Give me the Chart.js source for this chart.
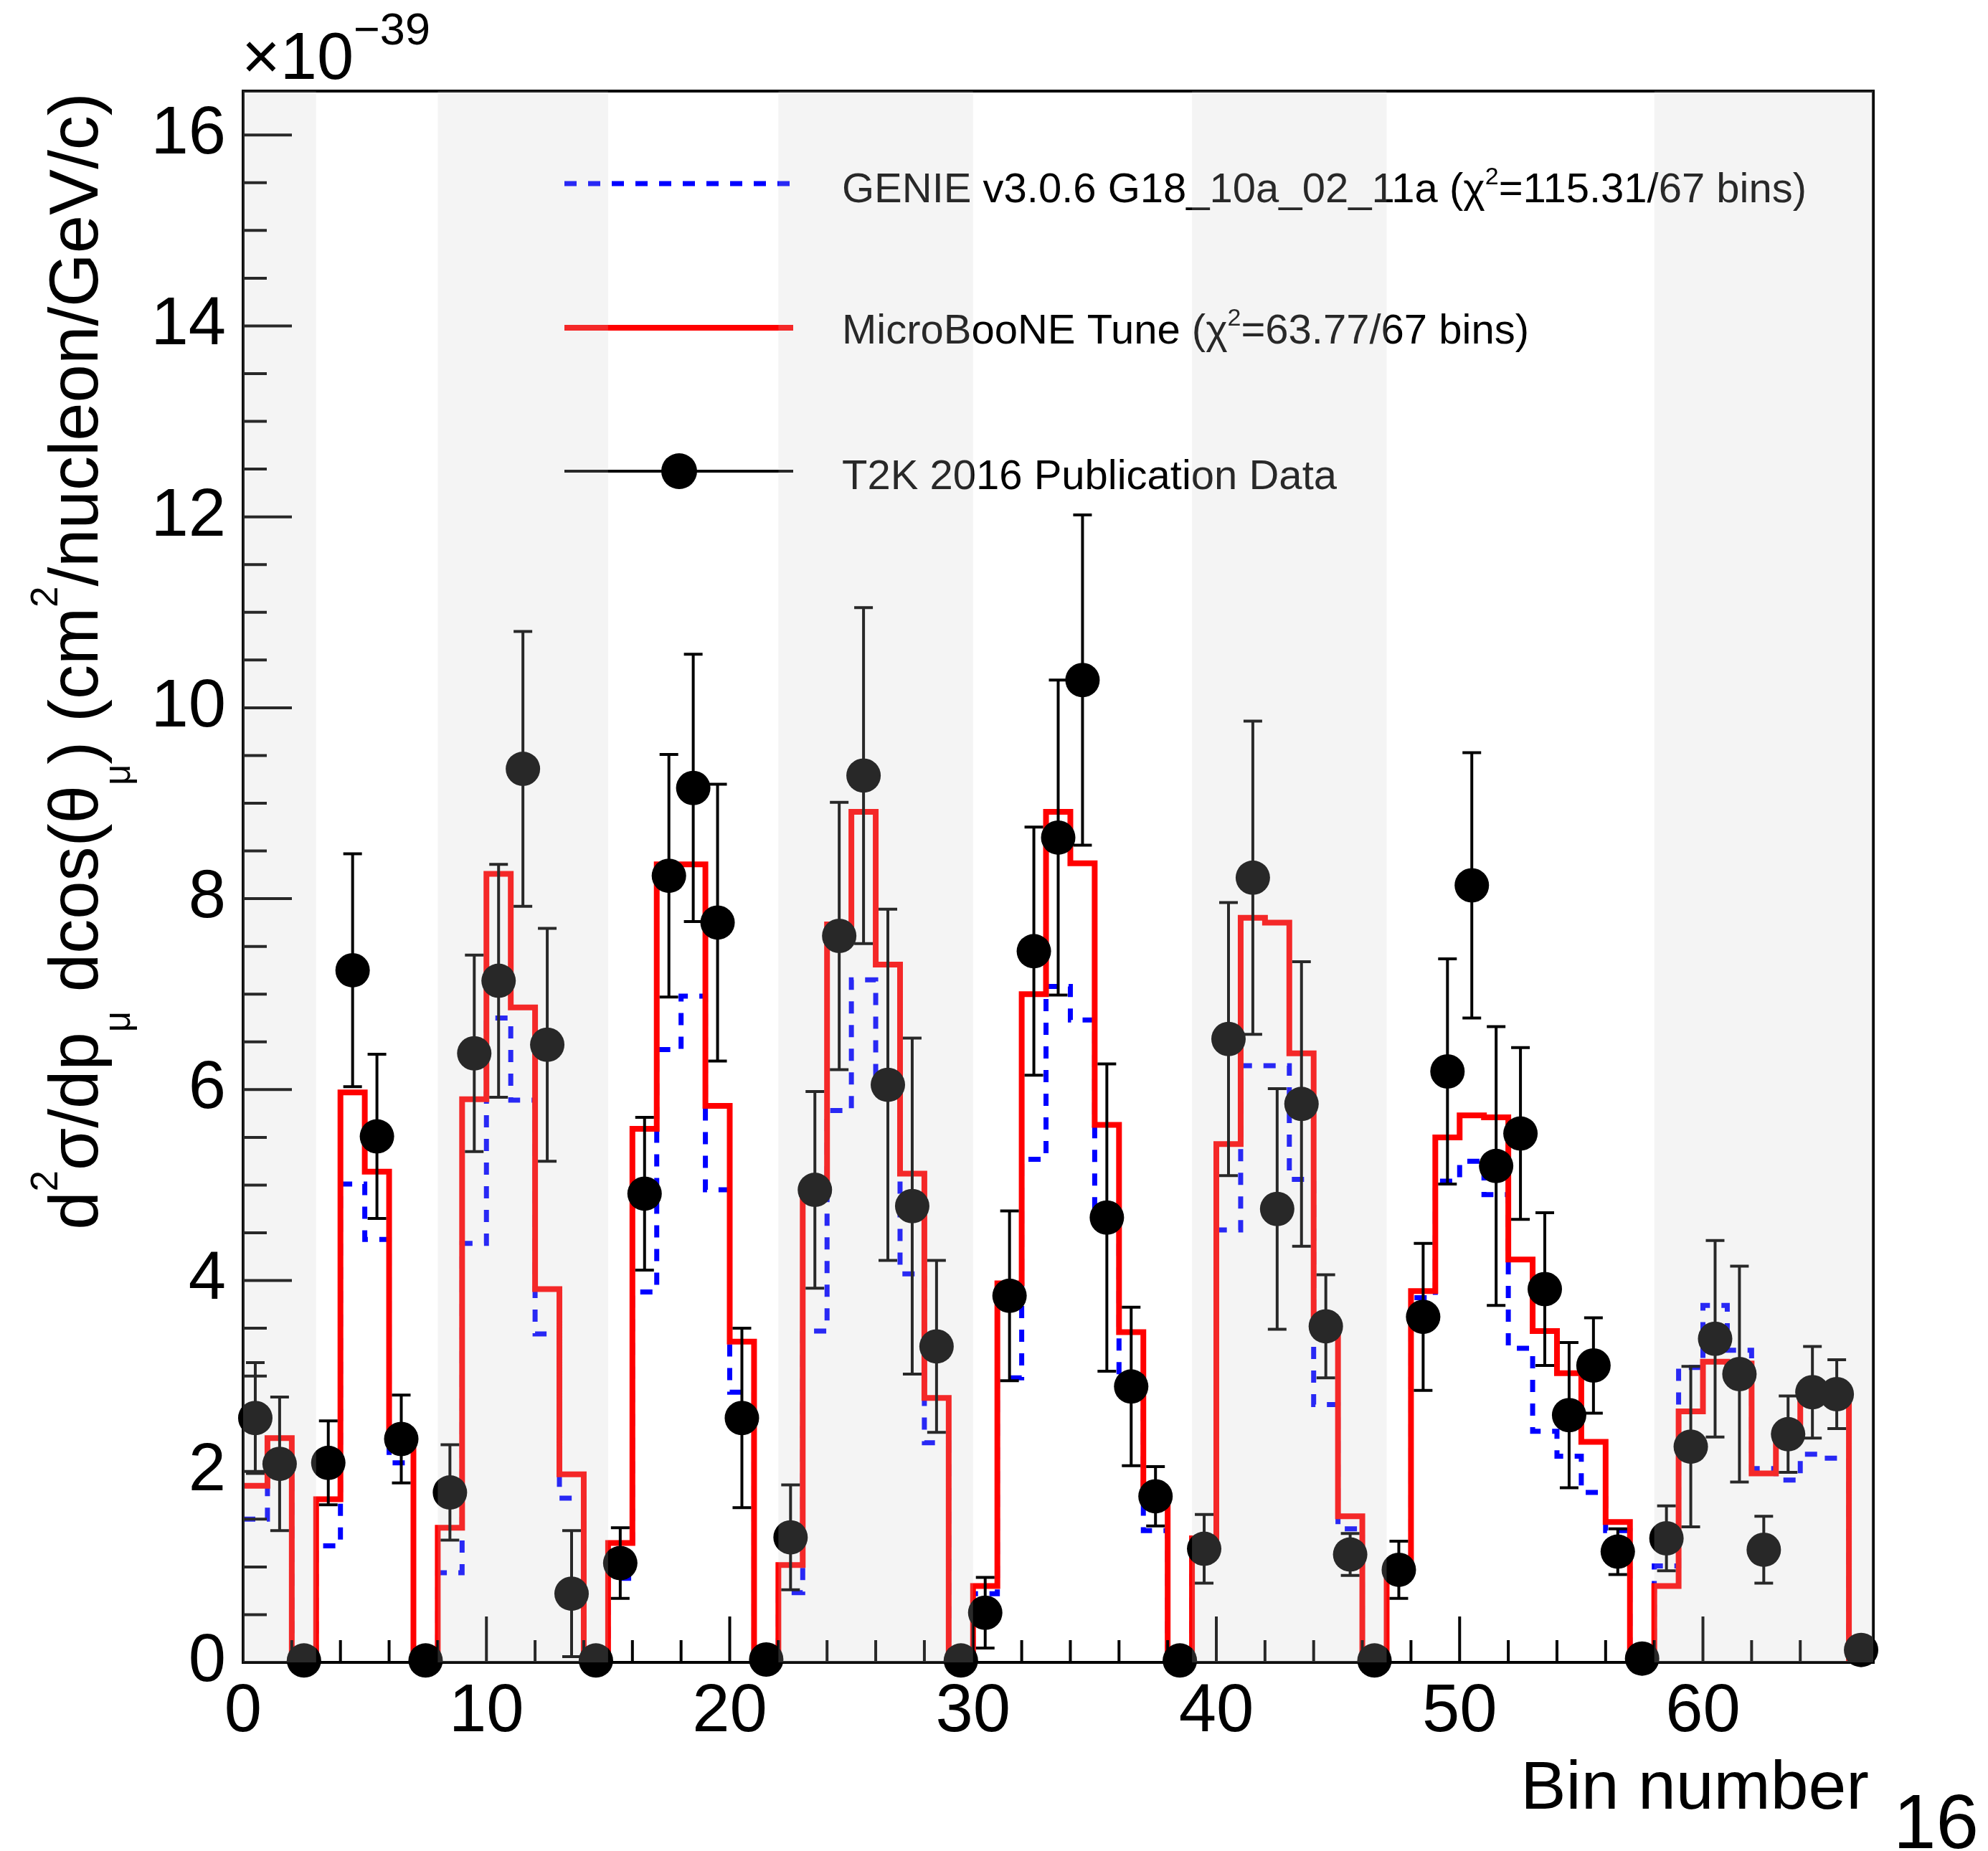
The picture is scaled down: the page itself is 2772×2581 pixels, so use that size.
<!DOCTYPE html>
<html>
<head>
<meta charset="utf-8">
<script src="https://cdn.jsdelivr.net/npm/chart.js@4.4.1/dist/chart.umd.min.js"></script>
<style>
  html, body { margin: 0; padding: 0; background: #fff; }
</style>
</head>
<body>
<canvas id="chart" width="2772" height="2581"></canvas>
<script>
// T2K data, one value per bin (bins 0..66), in units of 1e-39
const t2k = [
  2.56, 2.08, 0.02, 2.09, 7.25, 5.51, 2.34, 0.02, 1.78, 6.38,
  7.14, 9.36, 6.47, 0.72, 0.02, 1.04, 4.91, 8.24, 9.16, 7.75,
  2.56, 0.03, 1.31, 4.95, 7.61, 9.29, 6.05, 4.78, 3.31, 0.02,
  0.52, 3.84, 7.45, 8.64, 10.29, 4.66, 2.89, 1.74, 0.02, 1.19,
  6.53, 8.22, 4.75, 5.85, 3.52, 1.13, 0.02, 0.97, 3.62, 6.19,
  8.14, 5.20, 5.54, 3.91, 2.59, 3.11, 1.16, 0.04, 1.30, 2.26,
  3.39, 3.02, 1.18, 2.39, 2.83, 2.81, 0.13
];
const t2kErr = [
  0.58, 0.70, 0, 0.44, 1.22, 0.86, 0.46, 0, 0.50, 1.03,
  1.22, 1.44, 1.22, 0.66, 0, 0.37, 0.80, 1.27, 1.40, 1.45,
  0.94, 0, 0.55, 1.03, 1.40, 1.76, 1.84, 1.76, 0.90, 0,
  0.37, 0.89, 1.30, 1.65, 1.73, 1.61, 0.83, 0.31, 0, 0.36,
  1.43, 1.64, 1.26, 1.49, 0.54, 0.22, 0, 0.30, 0.77, 1.18,
  1.39, 1.46, 0.90, 0.80, 0.76, 0.50, 0.24, 0, 0.34, 0.84,
  1.03, 1.13, 0.35, 0.40, 0.48, 0.36, 0
];
// GENIE v3.0.6 G18_10a_02_11a prediction
const genie = [
  1.50, 2.20, 0, 1.22, 5.01, 4.43, 2.09, 0, 0.94, 4.39,
  6.75, 5.89, 3.44, 1.72, 0, 0.88, 3.88, 6.42, 6.98, 4.95,
  2.83, 0, 0.73, 3.47, 5.78, 7.15, 6.15, 4.07, 2.30, 0,
  0.72, 2.98, 5.27, 7.08, 6.73, 4.70, 2.82, 1.38, 0, 1.25,
  4.53, 6.25, 6.25, 5.06, 2.70, 1.40, 0, 0.90, 3.82, 5.04,
  5.25, 4.90, 3.29, 2.42, 2.16, 1.78, 1.38, 0, 1.01, 3.09,
  3.74, 3.27, 2.03, 1.91, 2.18, 2.14, 0
];
// MicroBooNE Tune prediction
const tune = [
  1.85, 2.35, 0, 1.71, 5.97, 5.14, 2.30, 0, 1.41, 5.90,
  8.26, 6.86, 3.91, 1.97, 0, 1.25, 5.59, 8.36, 8.36, 5.83,
  3.36, 0, 1.02, 4.95, 7.73, 8.91, 7.31, 5.12, 2.77, 0,
  0.80, 3.97, 7.00, 8.91, 8.37, 5.63, 3.46, 1.80, 0, 1.30,
  5.43, 7.80, 7.75, 6.38, 3.55, 1.53, 0, 0.95, 3.89, 5.50,
  5.73, 5.71, 4.22, 3.47, 3.03, 2.31, 1.47, 0, 0.80, 2.63,
  3.15, 3.13, 1.98, 2.35, 2.83, 2.84, 0
];
// shaded groups of bins
const bandStart = [0, 8, 22, 39, 58];
const bandEnd = [3, 15, 30, 47, 67];
// axis tick labels
const xTickValues = [0, 10, 20, 30, 40, 50, 60];
const yTickValues = [0, 2, 4, 6, 8, 10, 12, 14, 16];

const FONT = "'Liberation Sans', Arial, Helvetica, sans-serif";
Chart.defaults.font.family = FONT;

// bin edges for a step histogram
function histPoints(vals) {
    const pts = vals.map((v, i) => ({ x: i, y: v }));
    pts.push({ x: vals.length, y: vals[vals.length - 1] });
    return pts;
}

// draws a run of text pieces; parts are [text, size, dy]
function richText(ctx, parts, x, y, align) {
    let w = 0;
    parts.forEach((p) => {
        ctx.font = p[1] + "px " + FONT;
        w += ctx.measureText(p[0]).width;
    });
    let cx = align === "center" ? x - w / 2 : align === "right" ? x - w : x;
    parts.forEach((p) => {
        ctx.font = p[1] + "px " + FONT;
        ctx.fillText(p[0], cx, y + (p[2] || 0));
        cx += ctx.measureText(p[0]).width;
    });
}

// "^2" in a label becomes a superscript
function labelParts(label, size) {
    const parts = [];
    label.split(/\^(.)/).forEach((s, i) => {
        if (!s) return;
        parts.push(i % 2 ? [s, 34, -25] : [s, size, 0]);
    });
    return parts;
}

const rootStyle = {
    id: "rootStyle",
    beforeDatasetDraw(chart, args) {
        if (args.index !== 0) return;
        // error bars under the data markers
        const { ctx, scales: { x, y } } = chart;
        ctx.save();
        ctx.strokeStyle = "#000";
        ctx.lineWidth = 4;
        t2k.forEach((v, i) => {
            const e = t2kErr[i];
            if (!e) return;
            const px = x.getPixelForValue(i + 0.5);
            const top = y.getPixelForValue(v + e);
            const bot = y.getPixelForValue(v - e);
            ctx.beginPath();
            ctx.moveTo(px, top); ctx.lineTo(px, bot);
            ctx.moveTo(px - 13, top); ctx.lineTo(px + 13, top);
            ctx.moveTo(px - 13, bot); ctx.lineTo(px + 13, bot);
            ctx.stroke();
        });
        ctx.restore();
    },
    afterDatasetsDraw(chart) {
        const { ctx, chartArea: a, scales: { x, y } } = chart;
        const ds = chart.data.datasets;
        ctx.save();

        // legend
        const rows = [
            { d: ds[2], y: 256, ty: 282 },
            { d: ds[1], y: 457, ty: 479 },
            { d: ds[0], y: 657, ty: 682 },
        ];
        rows.forEach((r) => {
            ctx.save();
            ctx.beginPath();
            ctx.moveTo(787, r.y);
            ctx.lineTo(1106, r.y);
            if (r.d.showLine === false) {
                ctx.strokeStyle = "#000";
                ctx.lineWidth = 4;
            } else {
                ctx.strokeStyle = r.d.borderColor;
                ctx.lineWidth = r.d.borderWidth;
                ctx.setLineDash(r.d.borderDash || []);
            }
            ctx.stroke();
            if (r.d.showLine === false) {
                ctx.fillStyle = "#000";
                ctx.beginPath();
                ctx.arc(947, r.y, 25, 0, Math.PI * 2);
                ctx.fill();
            }
            ctx.restore();
            ctx.fillStyle = "#000";
            ctx.textBaseline = "alphabetic";
            richText(ctx, labelParts(r.d.label, 58), 1174, r.ty, "left");
        });

        // tick marks inside the frame
        ctx.strokeStyle = "#000";
        ctx.lineWidth = 4;
        ctx.beginPath();
        for (let k = 0; k * 0.5 <= y.max; k++) {
            const py = y.getPixelForValue(k * 0.5);
            ctx.moveTo(a.left, py);
            ctx.lineTo(a.left + (k % 4 === 0 ? 68 : 33), py);
        }
        for (let k = 0; k <= x.max; k += 2) {
            const px = x.getPixelForValue(k);
            ctx.moveTo(px, a.bottom);
            ctx.lineTo(px, a.bottom - (k % 10 === 0 ? 64 : 31));
        }
        ctx.stroke();
        ctx.strokeRect(a.left, a.top, a.right - a.left, a.bottom - a.top);

        // shaded bin groups, laid over everything
        ctx.fillStyle = "rgba(200,200,200,0.2)";
        bandStart.forEach((s, i) => {
            const x0 = x.getPixelForValue(s);
            const x1 = x.getPixelForValue(bandEnd[i]);
            ctx.fillRect(x0, a.top, x1 - x0, a.bottom - a.top);
        });
        ctx.restore();
    },
    afterDraw(chart) {
        const { ctx } = chart;
        ctx.save();
        ctx.fillStyle = "#000";
        ctx.textBaseline = "alphabetic";

        // y title, rotated
        ctx.save();
        ctx.translate(136, 922);
        ctx.rotate(-Math.PI / 2);
        richText(ctx, [
            ["d", 96, 0], ["2", 53, -56], ["\u03c3/dp", 96, 0], ["\u03bc", 51, 45],
            [" dcos(\u03b8", 96, 0], ["\u03bc", 51, 45], [") (cm", 96, 0], ["2", 53, -56],
            ["/nucleon/GeV/c)", 96, 0],
        ], 0, 0, "center");
        ctx.restore();

        // exponent
        richText(ctx, [["\u00d710", 92, 0], ["\u221239", 63, -48]], 337, 110, "left");

        // x title
        ctx.font = "95px " + FONT;
        ctx.textAlign = "right";
        ctx.fillText("Bin number", 2606, 2522);
        ctx.textAlign = "left";
        ctx.font = "107px " + FONT;
        ctx.fillText("16", 2640, 2577);
        ctx.restore();
    },
};

new Chart(document.getElementById("chart"), {
    type: "line",
    data: {
        datasets: [
            {
                label: "T2K 2016 Publication Data",
                data: t2k.map((v, i) => ({ x: i + 0.5, y: v })),
                showLine: false,
                pointRadius: 24,
                pointHoverRadius: 24,
                pointBackgroundColor: "#000",
                pointBorderWidth: 0,
                clip: false,
            },
            {
                label: "MicroBooNE Tune (\u03c7^2=63.77/67 bins)",
                data: histPoints(tune),
                stepped: "before",
                borderColor: "#ff0000",
                borderWidth: 8,
                pointRadius: 0,
                fill: false,
                borderJoinStyle: "miter",
            },
            {
                label: "GENIE v3.0.6 G18_10a_02_11a (\u03c7^2=115.31/67 bins)",
                data: histPoints(genie),
                stepped: "before",
                borderColor: "#0000ff",
                borderWidth: 7,
                borderDash: [17, 16],
                pointRadius: 0,
                fill: false,
                borderJoinStyle: "miter",
            },
        ],
    },
    options: {
        responsive: false,
        devicePixelRatio: 1,
        animation: false,
        events: [],
        layout: { padding: { top: 127, right: 160, left: 0, bottom: 0 } },
        plugins: {
            legend: { display: false },
            tooltip: { enabled: false },
        },
        scales: {
            x: {
                type: "linear",
                min: 0,
                max: 67,
                grid: { display: false, drawTicks: false },
                border: { display: false },
                afterBuildTicks: (s) => { s.ticks = xTickValues.map((v) => ({ value: v })); },
                ticks: {
                    font: { size: 94 },
                    color: "#000",
                    padding: 14,
                    maxRotation: 0,
                    autoSkip: false,
                },
                afterFit: (s) => { s.height = 263; },
            },
            y: {
                type: "linear",
                min: 0,
                max: 16.46,
                grid: { display: false, drawTicks: false },
                border: { display: false },
                afterBuildTicks: (s) => { s.ticks = yTickValues.map((v) => ({ value: v })); },
                ticks: {
                    font: { size: 94 },
                    color: "#000",
                    padding: 24,
                },
                afterFit: (s) => { s.width = 339; },
            },
        },
    },
    plugins: [rootStyle],
});
</script>
</body>
</html>
